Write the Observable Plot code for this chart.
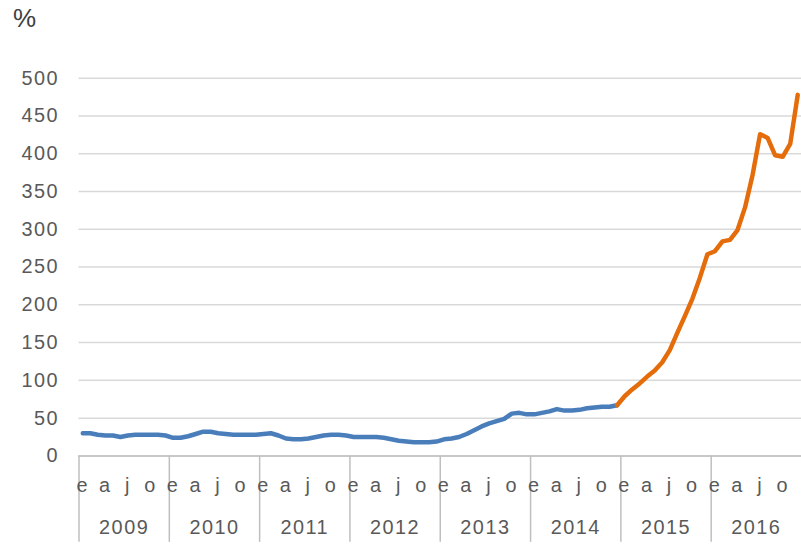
<!DOCTYPE html>
<html><head><meta charset="utf-8">
<script src="https://cdn.jsdelivr.net/npm/d3@7"></script>
<script src="https://cdn.jsdelivr.net/npm/@observablehq/plot@0.6"></script>
<style>
html,body{margin:0;padding:0;background:#fff;overflow:hidden;}
#unit{box-sizing:border-box;height:40px;padding:5px 0 0 13px;font:26px/26px "Liberation Sans",Arial,sans-serif;color:#404040;}
#chart svg{display:block;}
</style></head><body>
<div id="unit">%</div>
<div id="chart"></div>
<script>
const years = [2009, 2010, 2011, 2012, 2013, 2014, 2015, 2016];
const monthLetters = ["e", "a", "j", "o"]; // enero, abril, julio, octubre
const monthLetterIdx = [0, 3, 6, 9];
const yTicks = [0, 50, 100, 150, 200, 250, 300, 350, 400, 450, 500];

// Jan 2009 .. Dec 2014 (blue)
const blueValues = [
  30, 30, 28, 27, 27, 25, 27, 28, 28, 28, 28, 27,
  24, 24, 26, 29, 32, 32, 30, 29, 28, 28, 28, 28,
  29, 30, 27, 23, 22, 22, 23, 25, 27, 28, 28, 27,
  25, 25, 25, 25, 24, 22, 20, 19, 18, 18, 18, 19,
  22, 23, 25, 29, 34, 39, 43, 46, 49, 56, 57, 55,
  55, 57, 59, 62, 60, 60, 61, 63, 64, 65, 65, 67
];
// Dec 2014 .. Dec 2016 (orange)
const orangeValues = [
  67,
  79, 88, 96, 105, 113, 124, 140, 163, 185, 208, 236, 267,
  271, 284, 286, 299, 329, 372, 426, 421, 398, 396, 413, 478
];

const blue = blueValues.map((v, i) => ({t: years[0] + Math.floor(i / 12) + ((i % 12) + 0.5) / 12, v}));
const orange = orangeValues.map((v, i) => {
  const k = i + 71;
  return {t: years[0] + Math.floor(k / 12) + ((k % 12) + 0.5) / 12, v};
});

const monthTicks = years.flatMap(y => monthLetterIdx.map(m => y + (m + 0.5) / 12));
const monthLabel = d => monthLetters[monthLetterIdx.indexOf(Math.round((d - Math.floor(d)) * 12 - 0.5))];
const yearCenters = years.map(y => y + 0.5);

const chart = Plot.plot({
  width: 806,
  height: 505,
  marginLeft: 79,
  marginRight: 0,
  marginTop: 38,
  marginBottom: 87,
  x: {domain: [2009, 2017], axis: null},
  y: {domain: [0, 500], axis: null},
  style: {fontFamily: "'Liberation Sans', Arial, sans-serif", fontSize: "20px", color: "#595959", background: "#fff", letterSpacing: "1.5px"},
  marks: [
    Plot.gridY(yTicks, {stroke: "#d9d9d9", strokeOpacity: 1, strokeWidth: 1.5}),
    Plot.ruleY([0], {stroke: "#bfbfbf", strokeWidth: 1.5}),
    Plot.axisY(yTicks, {tickSize: 0, tickPadding: 20, label: null}),
    Plot.axisX(years, {tickSize: 87, tickFormat: () => "", stroke: "#bfbfbf", strokeWidth: 1.5, label: null}),
    Plot.axisX(monthTicks, {tickSize: 0, tickPadding: 22, tickFormat: monthLabel, label: null}),
    Plot.axisX(yearCenters, {tickSize: 0, tickPadding: 64, tickFormat: d => String(Math.floor(d)), label: null}),
    Plot.line(blue, {x: "t", y: "v", stroke: "#4a7ebb", strokeWidth: 4.5, curve: "linear"}),
    Plot.line(orange, {x: "t", y: "v", stroke: "#e46c0a", strokeWidth: 4.5, curve: "linear"})
  ]
});
document.getElementById("chart").appendChild(chart);
</script>
</body></html>
